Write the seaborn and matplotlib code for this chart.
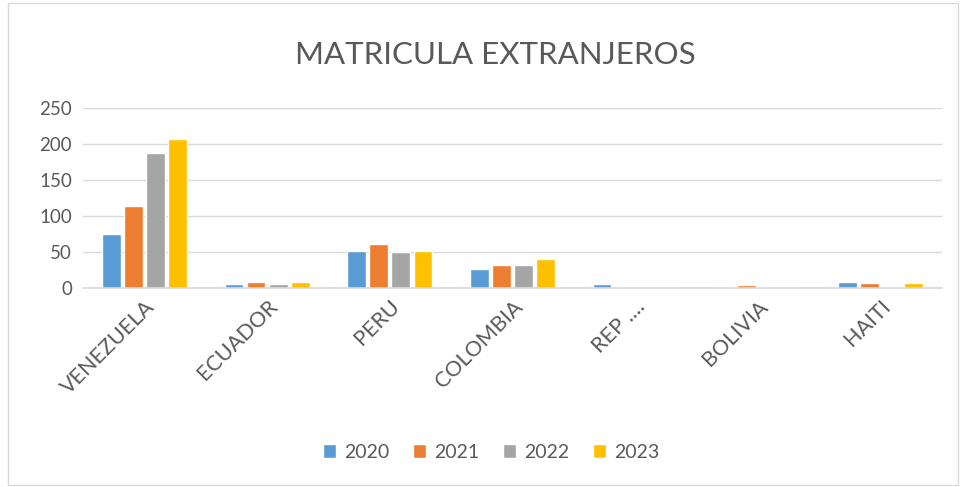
import pandas as pd
import numpy as np
import seaborn as sns
import matplotlib.pyplot as plt
from matplotlib.patches import Rectangle

# datos
paises = ['VENEZUELA', 'ECUADOR', 'PERU', 'COLOMBIA', 'REP ....', 'BOLIVIA', 'HAITI']
anios = ['2020', '2021', '2022', '2023']
v2020 = [75, 6, 52, 26, 5, 2, 8]
v2021 = [114, 9, 61, 32, 1, 4, 7]
v2022 = [188, 5, 50, 32, 1, 2, 2]
v2023 = [207, 8, 52, 40, 1, 2, 7]
colores = ['#5B9BD5', '#ED7D31', '#A5A5A5', '#FFC000']

df = pd.DataFrame({'pais': paises * 4,
                   'anio': np.repeat(anios, len(paises)),
                   'valor': v2020 + v2021 + v2022 + v2023})

sns.set_style('white')
plt.rcParams['font.family'] = ['Lato', 'DejaVu Sans']

fig = plt.figure(figsize=(9.61, 4.87), dpi=100)
ax = fig.add_axes([83 / 961, 1 - 288 / 487, (942 - 83) / 961, 180 / 487])

sns.barplot(data=df, x='pais', y='valor', hue='anio', palette=colores,
            saturation=1, width=0.72, gap=0.15, ax=ax, legend=True)

ax.set_ylim(0, 250)
ax.set_yticks(range(0, 251, 50))
ax.yaxis.grid(True, color='#D9D9D9', linewidth=1)
ax.set_axisbelow(True)
for s in ['top', 'right', 'left']:
    ax.spines[s].set_visible(False)
ax.spines['bottom'].set_color('#D9D9D9')
ax.spines['bottom'].set_linewidth(1.2)
ax.set_xlabel('')
ax.set_ylabel('')
ax.tick_params(axis='y', length=0, labelsize=13.5, colors='#595959', pad=8)
ax.tick_params(axis='x', length=0, labelsize=15.5, colors='#595959', pad=6)
plt.setp(ax.get_xticklabels(), rotation=45, ha='right', rotation_mode='anchor')

ax.legend(loc='center', bbox_to_anchor=(0.475, 1 - (452 - 108) / 180),
          ncol=4, frameon=False, fontsize=14, handlelength=0.7, handleheight=0.7,
          columnspacing=1.2, handletextpad=0.4, labelcolor='#595959')

fig.text(0.515, 1 - 55 / 487, 'MATRICULA EXTRANJEROS', ha='center', va='center',
         fontsize=22.5, color='#595959')

fig.patches.append(Rectangle((8 / 961, 2 / 487), 950 / 961, 482 / 487, transform=fig.transFigure,
                             fill=False, edgecolor='#D9D9D9', linewidth=1))

fig.savefig('out.png', dpi=100)
